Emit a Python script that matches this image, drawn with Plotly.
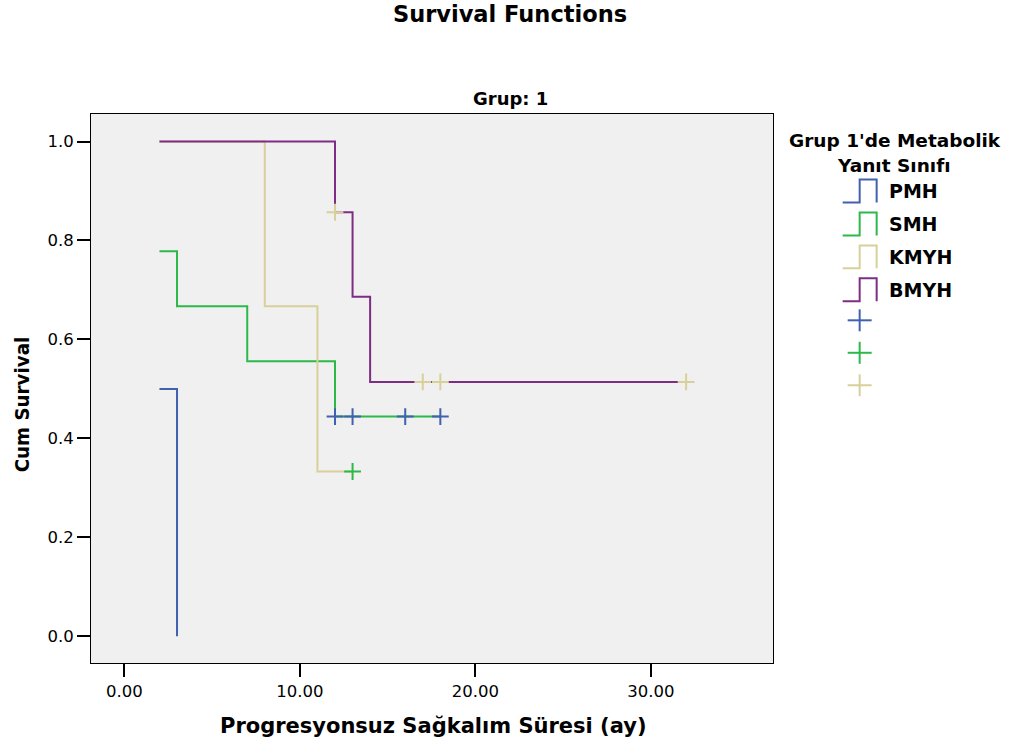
import plotly.graph_objects as go

# ---------------- data ----------------
groups = ["PMH", "SMH", "KMYH", "BMYH"]
colors = ["#4060B0", "#2CB84A", "#D8D09A", "#7E2C84"]

pmh_t = [2, 3]
pmh_s = [0.5, 0.0]
smh_t = [2, 3, 7, 12, 18]
smh_s = [0.778, 0.667, 0.556, 0.444, 0.444]
kmyh_t = [2, 8, 11, 13]
kmyh_s = [1.0, 0.667, 0.333, 0.333]
bmyh_t = [2, 12, 13, 14, 32]
bmyh_s = [1.0, 0.857, 0.686, 0.514, 0.514]

# censored observations (marker colours as drawn in the original)
smh_cens_t = [12, 13, 16, 18]
smh_cens_s = [0.444, 0.444, 0.444, 0.444]
kmyh_cens_t = [13]
kmyh_cens_s = [0.333]
bmyh_cens_t = [12, 17, 18, 32]
bmyh_cens_s = [0.857, 0.514, 0.514, 0.514]
cens_colors = ["#4060B0", "#2CB84A", "#D8D09A"]

x_ticks = [0, 10, 20, 30]
y_ticks = [0.0, 0.2, 0.4, 0.6, 0.8, 1.0]

FONT = "DejaVu Sans, Verdana, sans-serif"
VFONT = "DejaVu Sans Condensed, Liberation Sans Narrow, Liberation Sans, Arial"

fig = go.Figure()
curves = [(pmh_t, pmh_s), (smh_t, smh_s), (kmyh_t, kmyh_s), (bmyh_t, bmyh_s)]
for (t, s), name, c in zip(curves, groups, colors):
    fig.add_trace(go.Scatter(x=t, y=s, mode="lines", line=dict(color=c, width=2, shape="hv"),
                             name=name, showlegend=False))

cens = [(smh_cens_t, smh_cens_s), (kmyh_cens_t, kmyh_cens_s), (bmyh_cens_t, bmyh_cens_s)]
for (t, s), c in zip(cens, cens_colors):
    fig.add_trace(go.Scatter(x=t, y=s, mode="markers",
                             marker=dict(symbol="cross-thin", size=12, line=dict(color=c, width=2)),
                             showlegend=False))

# plot area pixel geometry
L, R, T, B = 91, 773.3, 113.5, 663.0
W, H = R - L, B - T


def px(xp):
    return (xp - L) / W


def py(yp):
    return (B - yp) / H


shapes = []
annotations = []


def label(x, y, text, size, anchor="center", family=FONT, angle=0):
    annotations.append(dict(x=px(x), y=py(y), xref="paper", yref="paper", text=text,
                            showarrow=False, textangle=angle,
                            font=dict(family=family, size=size, color="black"),
                            xanchor=anchor, yanchor="middle"))


# legend title
label(895, 140, "<b>Grup 1'de Metabolik</b>", 18.5)
label(894, 165, "<b>Yanıt Sınıfı</b>", 18.5)

# legend step icons + labels
for i, (name, c) in enumerate(zip(groups, colors)):
    yc = 191 + i * 33
    yb, yt = yc + 11, yc - 12
    path = (f"M {px(843)},{py(yb)} L {px(860)},{py(yb)} L {px(860)},{py(yt)} "
            f"L {px(877)},{py(yt)} L {px(877)},{py(yb)}")
    shapes.append(dict(type="path", xref="paper", yref="paper", path=path,
                       line=dict(color=c, width=2)))
    label(887, yc, f"<b>{name}</b>", 19, anchor="left")

# legend censor crosses
for i, c in enumerate(cens_colors):
    yc = 320 + i * 32.5
    shapes.append(dict(type="line", xref="paper", yref="paper", x0=px(848), x1=px(872),
                       y0=py(yc), y1=py(yc), line=dict(color=c, width=2)))
    shapes.append(dict(type="line", xref="paper", yref="paper", x0=px(860), x1=px(860),
                       y0=py(yc - 11), y1=py(yc + 11), line=dict(color=c, width=2)))

# titles
label(510, 13, "<b>Survival Functions</b>", 22.5)
label(511, 98, "<b>Grup: 1</b>", 18)
label(434, 726, "<b>Progresyonsuz Sağkalım Süresi (ay)</b>", 21)
label(22, 405, "<b>Cum Survival</b>", 20.3, family=VFONT, angle=-90)

fig.update_layout(
    width=1012, height=749,
    margin=dict(l=L, r=1012 - R, t=T, b=749 - B, pad=0),
    paper_bgcolor="white", plot_bgcolor="#F0F0F0",
    shapes=shapes, annotations=annotations, showlegend=False,
    font=dict(family=FONT, color="black"),
)
fig.update_xaxes(range=[-1.9, 36.95], tickvals=x_ticks, ticktext=[f"{v:.2f}" for v in x_ticks],
                 showgrid=False, zeroline=False, showline=True, mirror=True, linecolor="black", linewidth=1,
                 ticks="outside", ticklen=13, tickwidth=2, tickcolor="black",
                 tickfont=dict(family=FONT, size=16.5, color="black"))
fig.update_yaxes(range=[-0.054, 1.0556], tickvals=y_ticks, ticktext=[f"{v:.1f}" for v in y_ticks],
                 showgrid=False, zeroline=False, showline=True, mirror=True, linecolor="black", linewidth=1,
                 ticks="outside", ticklen=13, tickwidth=2, tickcolor="black",
                 tickfont=dict(family=FONT, size=16.5, color="black"))

fig.write_html("out.html")
